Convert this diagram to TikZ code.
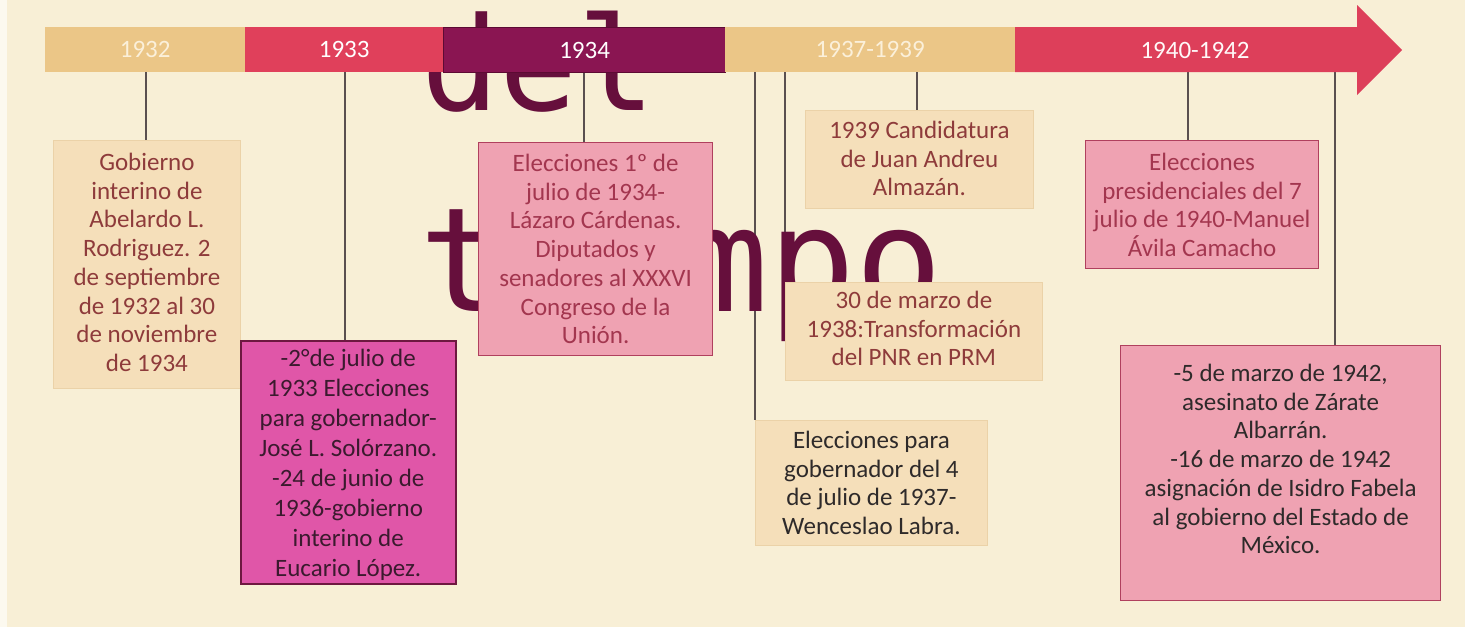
\documentclass[tikz,border=0pt]{standalone}
\usepackage{fontspec}
\setmainfont{Carlito}
\newfontfamily\monofnt{DejaVu Sans Mono}
\usetikzlibrary{positioning}
\definecolor{bgc}{HTML}{F8EFD6}
\definecolor{segtan}{HTML}{EBC687}
\definecolor{segred}{HTML}{E0405B}
\definecolor{segred2}{HTML}{DD3F5A}
\definecolor{segdark}{HTML}{8A1552}
\definecolor{segdarkb}{HTML}{5C0A33}
\definecolor{tanbox}{HTML}{F5DFBA}
\definecolor{tanboxb}{HTML}{EBD2A8}
\definecolor{pinkbox}{HTML}{EFA2B2}
\definecolor{pinkboxb}{HTML}{B0405E}
\definecolor{magbox}{HTML}{E056A8}
\definecolor{magboxb}{HTML}{6E1840}
\definecolor{brownred}{HTML}{8E3B3B}
\definecolor{pinktext}{HTML}{A3364F}
\definecolor{darktext}{HTML}{3B1A2E}
\definecolor{graytext}{HTML}{2E2A2A}
\definecolor{overlay}{HTML}{660F3C}
\definecolor{vline}{HTML}{5A5050}
\definecolor{labeltan}{HTML}{FBF0DA}
\tikzset{
  seglabel/.style={font=\fontsize{25}{28}\selectfont, inner sep=0pt},
  boxshape/.style={anchor=north west, inner sep=0pt},
  tanstyle/.style={boxshape, fill=tanbox, draw=tanboxb, line width=0.8pt},
  pinkstyle/.style={boxshape, fill=pinkbox, draw=pinkboxb, line width=1.2pt},
  magstyle/.style={boxshape, fill=magbox, draw=magboxb, line width=1.5pt},
  boxtext/.style={font=\fontsize{25}{28.7}\selectfont, align=center, inner sep=0pt, anchor=north},
  conn/.style={draw=vline, line width=1.1pt},
}
\begin{document}
\begin{tikzpicture}[x=1pt,y=-1pt]
\fill[bgc] (0,0) rectangle (1465,627);
\useasboundingbox (0,0) rectangle (1465,627);
\fill[white!60!bgc] (0,0) rectangle (7,627);

% anchor points on the bar
\coordinate (t1) at (146,72);
\coordinate (t2) at (345,72);
\coordinate (t3) at (584,72);
\coordinate (t4a) at (755,72);
\coordinate (t4b) at (785,72);
\coordinate (t4c) at (917,72);
\coordinate (t5a) at (1188,72);
\coordinate (t5b) at (1335,72);

% boxes (shapes only, drawn later on top)
\path (53,140) node[tanstyle, minimum width=187pt, minimum height=248pt] (b1) {};
\path (240,340) node[magstyle, minimum width=215pt, minimum height=243pt] (b2) {};
\path (478,142) node[pinkstyle, minimum width=234pt, minimum height=213pt] (b3) {};
\path (805,110) node[tanstyle, minimum width=228pt, minimum height=98pt] (b4) {};
\path (785,282) node[tanstyle, minimum width=257pt, minimum height=98pt] (b5) {};
\path (755,420) node[tanstyle, minimum width=232pt, minimum height=125pt] (b6) {};
\path (1085,140) node[pinkstyle, minimum width=233pt, minimum height=128pt] (b7) {};
\path (1120,345) node[pinkstyle, minimum width=320pt, minimum height=255pt] (b8) {};

% connectors
\draw[conn] (t1) -- (t1 |- b1.north);
\draw[conn] (t2) -- (t2 |- b2.north);
\draw[conn] (t3) -- (t3 |- b3.north);
\draw[conn] (t4a) -- (b6.north west);
\draw[conn] (t4b) -- (t4b |- b5.north);
\draw[conn] (t4c) -- (t4c |- b4.north);
\draw[conn] (t5a) -- (t5a |- b7.north);
\draw[conn] (t5b) -- (t5b |- b8.north);

% overlay title text
\node[anchor=base west, inner sep=0pt, text=overlay, font=\monofnt\fontsize{130}{130}\selectfont] (ovdel) at (421,110) {del};
\node[anchor=base west, inner sep=0pt, text=overlay, font=\monofnt\fontsize{145}{145}\selectfont] (ovtiempo) at (419,311) {tiempo};

% bar
\node[boxshape, fill=segtan, minimum width=200pt, minimum height=45pt] (s1) at (45,27) {};
\node[boxshape, fill=segred, minimum width=198pt, minimum height=45pt] (s2) at (245,27) {};
\node[boxshape, fill=segdark, draw=segdarkb, line width=1.2pt, minimum width=282pt, minimum height=45pt] (s3) at (443,27) {};
\node[boxshape, fill=segtan, minimum width=290pt, minimum height=45pt] (s4) at (725,27) {};
\fill[segred2] (1015,27) -- (1357,27) -- (1357,5) -- (1402,50) -- (1357,95) -- (1357,72) -- (1015,72) -- cycle;
\coordinate (s5) at (1195,50);
\node[seglabel, text=labeltan] at (s1.center) {1932};
\node[seglabel, text=white] at (s2.center) {1933};
\node[seglabel, text=white] at (s3.center) {1934};
\node[seglabel, text=labeltan] at (s4.center) {1937-1939};
\node[seglabel, text=white!90!pink] at (s5) {1940-1942};

% boxes drawn on top
\path (53,140) node[tanstyle, minimum width=187pt, minimum height=248pt] {};
\path (240,340) node[magstyle, minimum width=215pt, minimum height=243pt] {};
\path (478,142) node[pinkstyle, minimum width=234pt, minimum height=213pt] {};
\path (805,110) node[tanstyle, minimum width=228pt, minimum height=98pt] {};
\path (785,282) node[tanstyle, minimum width=257pt, minimum height=98pt] {};
\path (755,420) node[tanstyle, minimum width=232pt, minimum height=125pt] {};
\path (1085,140) node[pinkstyle, minimum width=233pt, minimum height=128pt] {};
\path (1120,345) node[pinkstyle, minimum width=320pt, minimum height=255pt] {};

% texts
\node[boxtext, text=brownred, below=13pt of b1.north] (x1) {Gobierno\\interino de\\Abelardo L.\\Rodriguez. 2\\de septiembre\\de 1932 al 30\\de noviembre\\de 1934};
\node[boxtext, text=darktext, font=\fontsize{25}{30}\selectfont, below=9pt of b2.north] (x2) {-2°de julio de\\1933 Elecciones\\para gobernador-\\José L. Solórzano.\\-24 de junio de\\1936-gobierno\\interino de\\Eucario López.};
\node[boxtext, text=pinktext, below=12pt of b3.north] (x3) {Elecciones 1º de\\julio de 1934-\\Lázaro Cárdenas.\\Diputados y\\senadores al XXXVI\\Congreso de la\\Unión.};
\node[boxtext, text=brownred, below=11pt of b4.north] (x4) {1939 Candidatura\\de Juan Andreu\\Almazán.};
\node[boxtext, text=brownred, below=9pt of b5.north] (x5) {30 de marzo de\\1938:Transformación\\del PNR en PRM};
\node[boxtext, text=graytext, below=11pt of b6.north] (x6) {Elecciones para\\gobernador del 4\\de julio de 1937-\\Wenceslao Labra.};
\node[boxtext, text=pinktext, below=13pt of b7.north] (x7) {Elecciones\\presidenciales del 7\\julio de 1940-Manuel\\Ávila Camacho};
\node[boxtext, text=graytext, below=19pt of b8.north] (x8) {-5 de marzo de 1942,\\asesinato de Zárate\\Albarrán.\\-16 de marzo de 1942\\asignación de Isidro Fabela\\al gobierno del Estado de\\México.};
\end{tikzpicture}
\end{document}
